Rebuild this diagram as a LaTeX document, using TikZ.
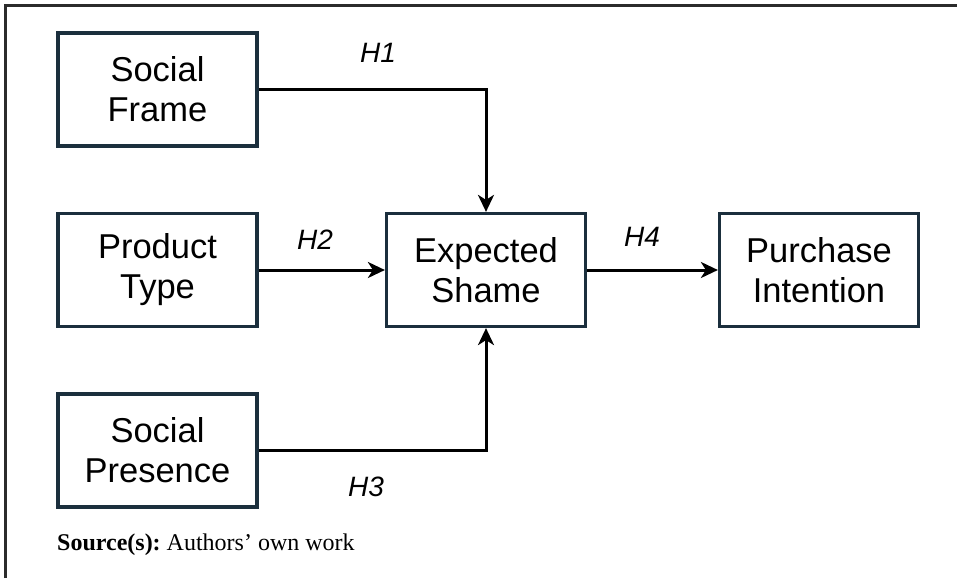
\documentclass[tikz,border=0pt]{standalone}
\usepackage{fontspec}
\setmainfont{Liberation Sans}
\newfontfamily\timesfont{Liberation Serif}
\usetikzlibrary{arrows.meta}
\definecolor{boxcol}{HTML}{1B2F3D}
\definecolor{framecol}{HTML}{2B2B2B}
\begin{document}
\begin{tikzpicture}[x=1pt,y=-1pt,
  box/.style={draw=boxcol, line width=3.2pt, minimum width=199pt, minimum height=113pt,
    align=center, inner sep=0pt, font=\fontsize{34.5}{40}\selectfont},
  conn/.style={line width=3pt, -{Stealth[length=17pt,width=16pt,inset=5pt]}},
  hlab/.style={font=\fontsize{28}{32}\selectfont\itshape, inner sep=0pt}]
\useasboundingbox (0,0) rectangle (957,578);
\draw[framecol, line width=3.2pt] (5.5,578) -- (5.5,5.5) -- (957,5.5);
\node[box] (sf) at (157.5,89.5) {Social\\Frame};
\node[box] (pt) at (157.5,270) {Product\\Type};
\node[box] (sp) at (157.5,450.5) {Social\\Presence};
\node[box] (es) at (486,270) {Expected\\Shame};
\node[box] (pi) at (819,270) {Purchase\\Intention};
\draw[conn] (sf.east) -| (es.north);
\draw[conn] (pt.east) -- (es.west);
\draw[conn] (sp.east) -| (es.south);
\draw[conn] (es.east) -- (pi.west);
\node[hlab] (h1) at (378,53) {H1};
\node[hlab] (h2) at (315,240) {H2};
\node[hlab] (h3) at (366,487) {H3};
\node[hlab] (h4) at (642,237) {H4};
\node[anchor=base west, inner sep=0pt, font=\timesfont\fontsize{24}{28}\selectfont] (src) at (57,550) {\frenchspacing\textbf{Source(s):}\ Authors’ own work};
\end{tikzpicture}
\end{document}
